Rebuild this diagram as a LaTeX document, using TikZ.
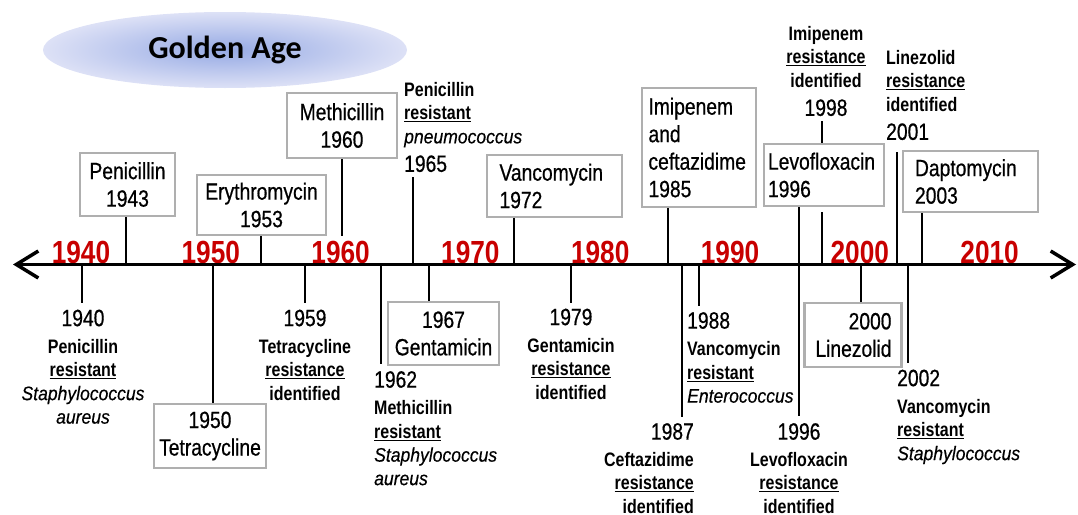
\documentclass[tikz,border=0pt]{standalone}
\usepackage{fontspec}
\setmainfont{Liberation Sans}[FakeStretch=0.82, UprightFeatures={FakeBold=0.6}]
\newfontfamily\speciesfont{Liberation Sans}[FakeStretch=0.9, ItalicFeatures={FakeBold=0.4}]
\newfontfamily\goldenfont{Carlito}
\usetikzlibrary{arrows.meta,shapes.geometric}

\definecolor{decred}{RGB}{200,0,0}
\definecolor{boxgray}{RGB}{175,175,175}
\definecolor{goldin}{RGB}{150,170,228}
\definecolor{goldout}{RGB}{221,225,246}

\newcommand{\yeartxt}{\fontsize{23.5}{27.5}\selectfont}
\newcommand{\notetxt}{\fontsize{19.5}{23.5}\selectfont\bfseries}
\newcommand{\decadetxt}{\fontsize{32}{32}\selectfont\bfseries}
\newcommand{\yr}[1]{{\yeartxt\mdseries #1}}
\newcommand{\res}[1]{\underline{#1}}
\newcommand{\species}[1]{{\speciesfont\itshape\mdseries #1}}

\begin{document}
\begin{tikzpicture}[x=1pt, y=-1pt,
    every node/.append style={inner sep=0pt, font=\yeartxt},
    drug/.style={draw=boxgray, line width=2.5pt, fill=white, align=center},
    note/.style={font=\notetxt},
    decade/.style={font=\decadetxt, text=decred, anchor=base},
    tick/.style={line width=1.6pt},
    axis/.style={line width=3.5pt, {Straight Barb[length=22pt,width=27pt]}-{Straight Barb[length=22pt,width=27pt]}}]
  \useasboundingbox (0,0) rectangle (1078,514);

  \node (golden) [ellipse, minimum width=364pt, minimum height=76pt, inner color=goldin, outer color=goldout,
    font=\goldenfont\bfseries\fontsize{32}{32}\selectfont] at (225,50) {Golden Age};

  % time line
  \foreach \d [count=\i from 0] in {1940,1950,...,2010}
    \node (d\d) [decade] at (81+129.8*\i,263) {\d};
  \coordinate (left) at (13,264.5);
  \coordinate (right) at (1076,264.5);
  \draw[axis] (left) -- (right);
  \foreach \y/\x in {1940/82,1943/126,1950/213,1953/261,1959/305,1960/342,1962/381,1965/413,1967/429,
      1972/514,1979/571,1985/668,1987/682,1988/699,1996/799,1998/822,2000/861,2001/897,2002/908,2003/922}
    \coordinate (t\y) at (\x,264.5);

  % drugs introduced
  \node (pen43) [drug, text width=95pt, minimum height=63pt] at (127.5,184.5) {Penicillin\\1943};
  \node (ery53) [drug, text width=129pt, minimum height=60pt] at (261.5,205) {Erythromycin\\1953};
  \node (met60) [drug, text width=110pt, minimum height=65pt] at (342,125.5) {Methicillin\\1960};
  \node (van72) [drug, align=left, text width=110pt, inner xsep=12.5pt, minimum height=62pt] at (554.5,186) {Vancomycin\\1972};
  \node (imi85) [drug, align=left, text width=101pt, inner xsep=6.5pt, minimum height=119pt] at (699,147.5) {Imipenem\\and\\ceftazidime\\1985};
  \node (lev96) [drug, align=left, text width=112pt, inner xsep=4pt, minimum height=62pt] at (824,175) {Levofloxacin\\1996};
  \node (dap03) [drug, align=left, text width=111pt, inner xsep=12pt, minimum height=61pt] at (970.5,181.5) {Daptomycin\\2003};
  \node (tet50) [drug, text width=112pt, minimum height=64pt] at (210,436) {1950\\Tetracycline};
  \node (gen67) [drug, text width=111pt, minimum height=63pt] at (443.5,333.5) {1967\\Gentamicin};
  \node (lin00) [drug, align=right, text width=77pt, inner xsep=10pt, minimum height=64pt] at (853,335) {2000\\Linezolid};

  % resistance found
  \node (r65) [note, align=left, anchor=north west] at (404,82) {Penicillin\\\res{resistant}\\\species{pneumococcus}\\[5pt]\yr{1965}};
  \node (r98) [note, align=center, anchor=north] at (826,26) {Imipenem\\\res{resistance}\\identified\\[5pt]\yr{1998}};
  \node (r01) [note, align=left, anchor=north west] at (886,50) {Linezolid\\\res{resistance}\\identified\\[5pt]\yr{2001}};
  \node (r40) [note, align=center, anchor=north] at (83,309.5) {\yr{1940}\\[3.5pt]Penicillin\\\res{resistant}\\\species{Staphylococcus}\\\species{aureus}};
  \node (r59) [note, align=center, anchor=north] at (305,309.5) {\yr{1959}\\[3.5pt]Tetracycline\\\res{resistance}\\identified};
  \node (r62) [note, align=left, anchor=north west] at (374,371) {\yr{1962}\\[3.5pt]Methicillin\\\res{resistant}\\\species{Staphylococcus}\\\species{aureus}};
  \node (r79) [note, align=center, anchor=north] at (571,308.5) {\yr{1979}\\[3.5pt]Gentamicin\\\res{resistance}\\identified};
  \node (r87) [note, align=right, anchor=north east] at (694,423) {\yr{1987}\\[3pt]Ceftazidime\\\res{resistance}\\identified};
  \node (r88) [note, align=left, anchor=north west] at (687,312) {\yr{1988}\\[3.5pt]Vancomycin\\\res{resistant}\\\species{Enterococcus}};
  \node (r96) [note, align=center, anchor=north] at (799,423) {\yr{1996}\\[3pt]Levofloxacin\\\res{resistance}\\identified};
  \node (r02) [note, align=left, anchor=north west] at (897,369.5) {\yr{2002}\\[3.5pt]Vancomycin\\\res{resistant}\\\species{Staphylococcus}};

  \draw[tick] (t1943 |- pen43.south) -- (t1943);
  \draw[tick] (t1953 |- ery53.south) -- (t1953);
  \draw[tick, shorten >=28.5pt] (t1960 |- met60.south) -- (t1960);
  \draw[tick, shorten <=5pt] (t1965 |- r65.south) -- (t1965);
  \draw[tick] (t1972 |- van72.south) -- (t1972);
  \draw[tick] (t1985 |- imi85.south) -- (t1985);
  \draw[tick] (t1996 |- lev96.south) -- (t1996);
  \draw[tick, shorten <=5pt] (t1998 |- r98.south) -- (t1998 |- lev96.north);
  \draw[tick, shorten <=5pt] (t1998 |- lev96.south) -- (t1998);
  \draw[tick, shorten <=12pt] (t2001 |- r01.south) -- (t2001);
  \draw[tick] (t2003 |- dap03.south) -- (t2003);
  \draw[tick, shorten >=6.5pt] (t1940) -- (t1940 |- r40.north);
  \draw[tick] (t1950) -- (t1950 |- tet50.north);
  \draw[tick, shorten >=6.5pt] (t1959) -- (t1959 |- r59.north);
  \draw[tick, shorten >=7pt] (t1962) -- (t1962 |- r62.north);
  \draw[tick] (t1967) -- (t1967 |- gen67.north);
  \draw[tick, shorten >=6pt] (t1979) -- (t1979 |- r79.north);
  \draw[tick, shorten >=6.5pt] (t1987) -- (t1987 |- r87.north);
  \draw[tick, shorten >=6.5pt] (t1988) -- (t1988 |- r88.north);
  \draw[tick, shorten >=7pt] (t1996) -- (t1996 |- r96.north);
  \draw[tick] (t2000) -- (t2000 |- lin00.north);
  \draw[tick, shorten >=6.5pt] (t2002) -- (t2002 |- r02.north);
\end{tikzpicture}
\end{document}
